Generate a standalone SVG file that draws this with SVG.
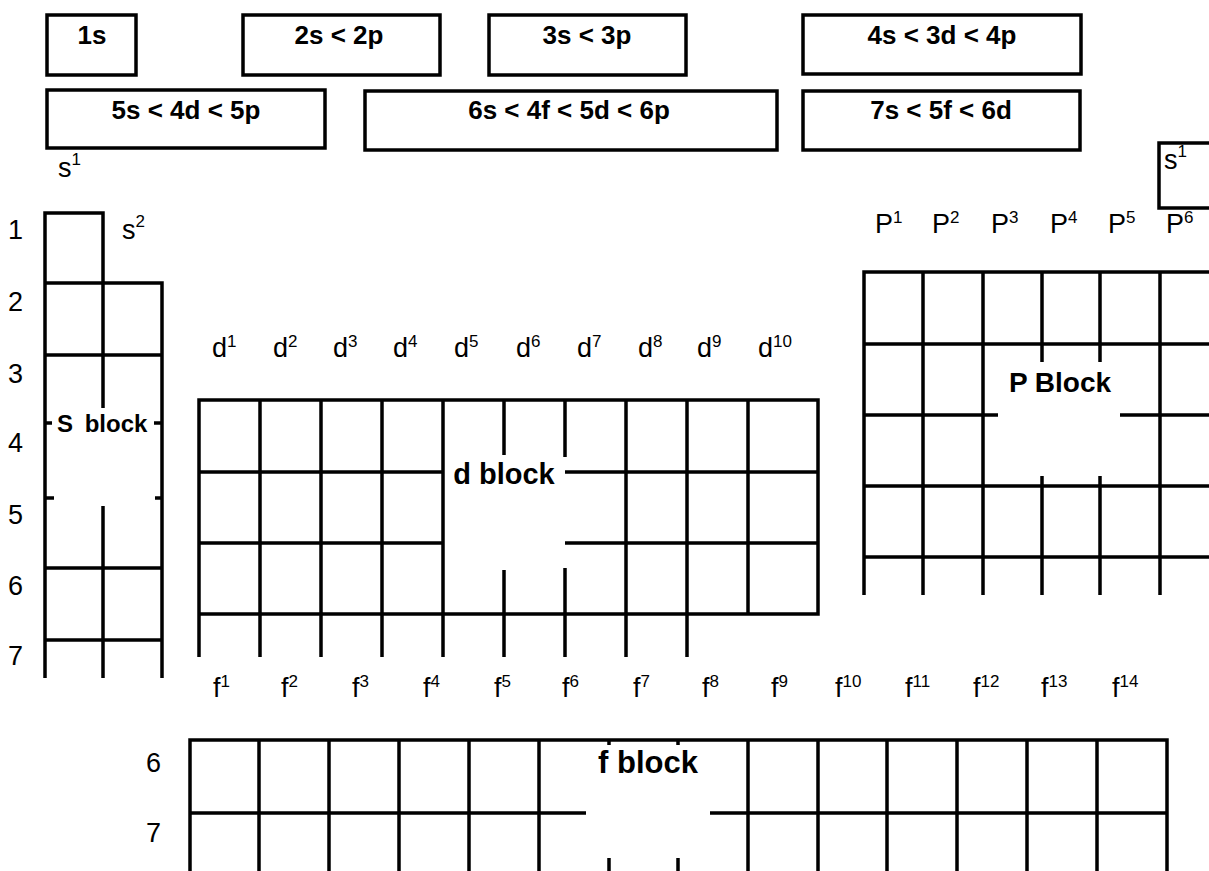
<svg xmlns="http://www.w3.org/2000/svg" width="1209" height="871" viewBox="0 0 1209 871">
<style>
.bx{fill:#fff;stroke:#000;stroke-width:3.5}
.ln{fill:none;stroke:#000;stroke-width:3.5;stroke-linejoin:miter}
.hd{font-family:'Liberation Sans',Arial,sans-serif;font-weight:bold;font-size:26px;text-anchor:middle;fill:#000}
.bl{font-family:'Liberation Sans',Arial,sans-serif;font-weight:bold;fill:#000}
.lb{font-family:'Liberation Sans',Arial,sans-serif;font-size:27px;fill:#000}
.sp{font-size:17px}
</style>
<rect width="1209" height="871" fill="#fff"/>

<g id="order-1s"><rect class="bx" x="47" y="15" width="89" height="60"/><text class="hd" x="92" y="44">1s</text></g>
<g id="order-2"><rect class="bx" x="243" y="15" width="197" height="60"/><text class="hd" x="339" y="44">2s &lt; 2p</text></g>
<g id="order-3"><rect class="bx" x="489" y="15" width="197" height="60"/><text class="hd" x="587" y="44">3s &lt; 3p</text></g>
<g id="order-4"><rect class="bx" x="803" y="15" width="278" height="59"/><text class="hd" x="942" y="44">4s &lt; 3d &lt; 4p</text></g>
<g id="order-5"><rect class="bx" x="47" y="90" width="278" height="58"/><text class="hd" x="186" y="119">5s &lt; 4d &lt; 5p</text></g>
<g id="order-6"><rect class="bx" x="365" y="91" width="412" height="59"/><text class="hd" x="569" y="119">6s &lt; 4f &lt; 5d &lt; 6p</text></g>
<g id="order-7"><rect class="bx" x="803" y="91" width="277" height="59"/><text class="hd" x="941" y="119">7s &lt; 5f &lt; 6d</text></g>

<g id="periods" class="lb">
<text x="8" y="239">1</text>
<text x="8" y="311">2</text>
<text x="8" y="383">3</text>
<text x="8" y="452">4</text>
<text x="8" y="524">5</text>
<text x="8" y="595">6</text>
<text x="8" y="665">7</text>
</g>

<g id="s-block">
<text class="lb" x="58" y="177">s<tspan class="sp" dy="-12">1</tspan></text>
<text class="lb" x="122" y="239">s<tspan class="sp" dy="-12">2</tspan></text>
<path class="ln" d="M45 678V213H103V408M45 283H162V678M45 355H162M45 423H52M154 423H162M45 498H54M155 498H162M103 506V678M45 568H162M45 640H162"/>
<text class="bl" x="57" y="432" font-size="24" word-spacing="5">S block</text>
</g>

<g id="d-block">
<g class="lb">
<text x="212" y="357">d<tspan class="sp" dy="-10">1</tspan></text>
<text x="273" y="357">d<tspan class="sp" dy="-10">2</tspan></text>
<text x="333" y="357">d<tspan class="sp" dy="-10">3</tspan></text>
<text x="393" y="357">d<tspan class="sp" dy="-10">4</tspan></text>
<text x="454" y="357">d<tspan class="sp" dy="-10">5</tspan></text>
<text x="516" y="357">d<tspan class="sp" dy="-10">6</tspan></text>
<text x="577" y="357">d<tspan class="sp" dy="-10">7</tspan></text>
<text x="638" y="357">d<tspan class="sp" dy="-10">8</tspan></text>
<text x="697" y="357">d<tspan class="sp" dy="-10">9</tspan></text>
<text x="758" y="357">d<tspan class="sp" dy="-10">10</tspan></text>
</g>
<path class="ln" d="M199 657V400H818V614H199M199 472H443M565 472H818M199 543H443M565 543H818M260 400V657M321 400V657M382 400V657M443 400V657M504 400V455M504 570V657M565 400V457M565 568V657M626 400V657M687 400V657M748 400V614"/>
<text class="bl" x="504" y="484" font-size="29" text-anchor="middle">d block</text>
</g>

<g id="p-block">
<rect class="bx" x="1159" y="143" width="60" height="65"/>
<text class="lb" x="1164" y="169">s<tspan class="sp" dy="-12">1</tspan></text>
<g class="lb">
<text x="875" y="233">P<tspan class="sp" dy="-10">1</tspan></text>
<text x="932" y="233">P<tspan class="sp" dy="-10">2</tspan></text>
<text x="991" y="233">P<tspan class="sp" dy="-10">3</tspan></text>
<text x="1050" y="233">P<tspan class="sp" dy="-10">4</tspan></text>
<text x="1108" y="233">P<tspan class="sp" dy="-10">5</tspan></text>
<text x="1166" y="233">P<tspan class="sp" dy="-10">6</tspan></text>
</g>
<path class="ln" d="M864 595V272H1215M864 344H1215M864 415H998M1120 415H1215M864 486H1215M864 557H1215M923 272V595M983 272V595M1042 272V362M1042 476V595M1100 272V362M1100 476V595M1160 272V595"/>
<text class="bl" x="1060" y="392" font-size="28" text-anchor="middle">P Block</text>
</g>

<g id="f-block">
<g class="lb">
<text x="213" y="697">f<tspan class="sp" dy="-10">1</tspan></text>
<text x="281" y="697">f<tspan class="sp" dy="-10">2</tspan></text>
<text x="352" y="697">f<tspan class="sp" dy="-10">3</tspan></text>
<text x="423" y="697">f<tspan class="sp" dy="-10">4</tspan></text>
<text x="494" y="697">f<tspan class="sp" dy="-10">5</tspan></text>
<text x="562" y="697">f<tspan class="sp" dy="-10">6</tspan></text>
<text x="633" y="697">f<tspan class="sp" dy="-10">7</tspan></text>
<text x="702" y="697">f<tspan class="sp" dy="-10">8</tspan></text>
<text x="771" y="697">f<tspan class="sp" dy="-10">9</tspan></text>
<text x="835" y="697">f<tspan class="sp" dy="-10">10</tspan></text>
<text x="905" y="697">f<tspan class="sp" dy="-10">11</tspan></text>
<text x="973" y="697">f<tspan class="sp" dy="-10">12</tspan></text>
<text x="1041" y="697">f<tspan class="sp" dy="-10">13</tspan></text>
<text x="1112" y="697">f<tspan class="sp" dy="-10">14</tspan></text>
<text x="146" y="772">6</text>
<text x="146" y="842">7</text>
</g>
<path class="ln" d="M190 875V740H1167V875M190 813H586M710 813H1167M259 740V875M329 740V875M399 740V875M469 740V875M539 740V875M609 740V745M609 858V875M678 740V745M678 858V875M748 740V875M818 740V875M887 740V875M957 740V875M1027 740V875M1097 740V875"/>
<text class="bl" x="648" y="773" font-size="31" text-anchor="middle">f block</text>
</g>

<g id="connectors"></g>
</svg>
